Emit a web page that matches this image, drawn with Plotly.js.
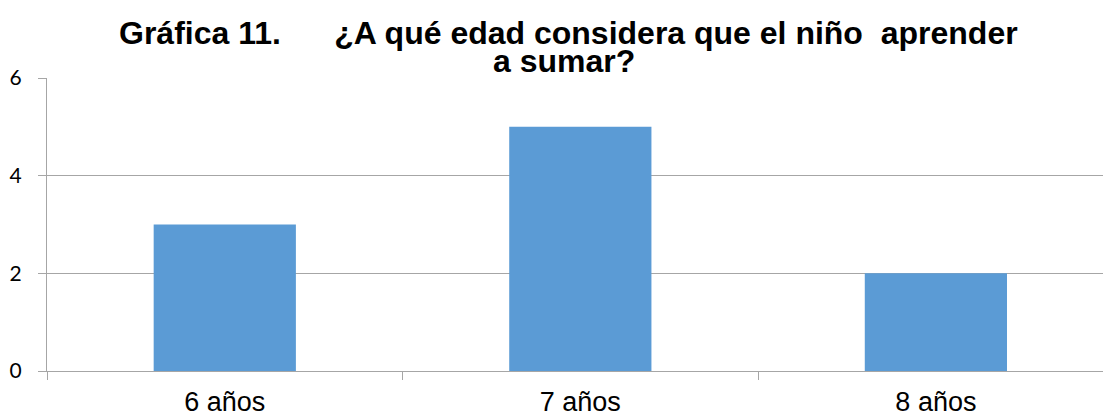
<!DOCTYPE html>
<html><head><meta charset="utf-8">
<script src="https://cdn.plot.ly/plotly-3.0.1.min.js"></script>
<style>html,body{margin:0;padding:0;background:#fff}</style>
</head><body>
<div id="chart" style="width:1103px;height:416px"></div>
<script>
const categories = ["6 años", "7 años", "8 años"];
const values = [3, 5, 2];
const yTicks = [0, 2, 4, 6];
const titleLine1 = "Gráfica 11.&nbsp;&nbsp;&nbsp;&nbsp;&nbsp;&nbsp;¿A qué edad considera que el niño&nbsp; aprender";
const titleLine2 = "a sumar?";

const titleFont = {family: "Liberation Sans, Arial", size: 32, color: "#000", weight: "bold"};

Plotly.newPlot("chart", [{
  type: "bar",
  x: categories,
  y: values,
  width: 0.4,
  marker: {color: "#5B9BD5"},
  hoverinfo: "x+y"
}], {
  width: 1103, height: 416,
  margin: {l: 47, r: 0, t: 78, b: 45},
  paper_bgcolor: "#fff", plot_bgcolor: "#fff",
  showlegend: false,
  annotations: [
    {text: "<b>" + titleLine1 + "</b>", font: titleFont, showarrow: false,
     xref: "paper", x: 0.494, xanchor: "center",
     yref: "paper", y: 1.154, yanchor: "middle"},
    {text: "<b>" + titleLine2 + "</b>", font: titleFont, showarrow: false,
     xref: "paper", x: 0.490, xanchor: "center",
     yref: "paper", y: 1.0580, yanchor: "middle"}
  ],
  xaxis: {
    type: "category",
    range: [-0.5, 2.47],
    showgrid: false,
    showline: true, linecolor: "#a6a6a6", linewidth: 1,
    ticks: "outside", tickson: "boundaries", ticklen: 8, tickcolor: "#a6a6a6",
    tickfont: {family: "Liberation Sans, Arial", size: 27, color: "#000"},
    ticklabelstandoff: 7,
    zeroline: false, fixedrange: true
  },
  yaxis: {
    range: [0, 6],
    tickvals: yTicks,
    showgrid: true, gridcolor: "#a6a6a6", gridwidth: 1,
    showline: true, linecolor: "#a6a6a6", linewidth: 1,
    ticks: "outside", ticklen: 8, tickcolor: "#a6a6a6",
    tickfont: {family: "Lato, Carlito, Calibri, sans-serif", size: 21, color: "#000"},
    ticklabelstandoff: 12,
    zeroline: false, fixedrange: true
  }
}, {displayModeBar: false, staticPlot: true});
</script>
</body></html>
